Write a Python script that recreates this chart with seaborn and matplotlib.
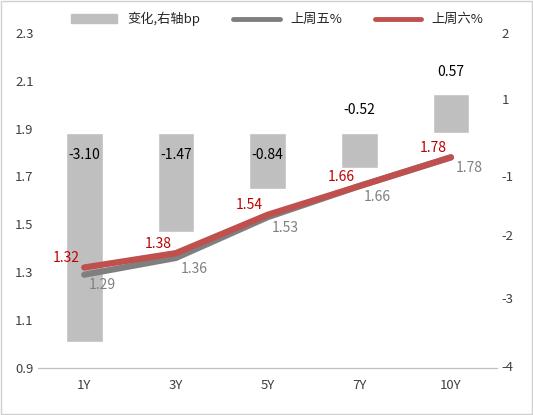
import matplotlib
matplotlib.use("Agg")
import matplotlib.pyplot as plt
import seaborn as sns
import pandas as pd
from matplotlib.patches import Patch
from matplotlib.lines import Line2D

sns.set_style("white")
plt.rcParams['font.family'] = ['Noto Sans CJK SC', 'DejaVu Sans']

cats = ["1Y", "3Y", "5Y", "7Y", "10Y"]
change_bp = [-3.10, -1.47, -0.84, -0.52, 0.57]
fri = [1.29, 1.36, 1.53, 1.66, 1.78]
sat = [1.32, 1.38, 1.54, 1.66, 1.78]
right_tick_pos = [1.48, 0.50, -0.64, -1.52, -2.45, -3.46]
right_tick_lab = ["2", "1", "-1", "-2", "-3", "-4"]

df = pd.DataFrame({"cat": cats, "chg": change_bp, "fri": fri, "sat": sat})

fig = plt.figure(figsize=(5.33, 4.15), dpi=100)
fig.patches.append(plt.Rectangle((0.002, 0.002), 0.996, 0.996, transform=fig.transFigure,
                                 fill=False, edgecolor="#d0d0d0", lw=1))
ax = fig.add_axes([0.072, 0.113, 0.86, 0.808])
ax2 = ax.twinx()

sns.barplot(data=df, x="cat", y="chg", ax=ax2, color="#bfbfbf", width=0.4, saturation=1)
ax2.set_ylim(-3.49, 1.48)
ax2.set_yticks(right_tick_pos)
ax2.set_yticklabels(right_tick_lab)
ax2.set_ylabel("")
for i, v in enumerate(change_bp):
    y = -0.33 if v < -0.6 else max(v, 0) + 0.33
    ax2.text(i, y, f"{v:.2f}", ha="center", va="center", fontsize=10, color="black")

x = list(range(len(cats)))
ax.plot(x, fri, color="#7f7f7f", lw=4.5, solid_capstyle="round")
ax.plot(x, sat, color="#c0504d", lw=4.5, solid_capstyle="round")
for i in x:
    ax.text(i + 0.05, fri[i] - 0.015, f"{fri[i]:.2f}", ha="left", va="top", fontsize=10, color="#808080")
    ax.text(i - 0.05, sat[i] + 0.01, f"{sat[i]:.2f}", ha="right", va="bottom", fontsize=10, color="#c00000")

ax.set_zorder(ax2.get_zorder() + 1)
ax.patch.set_visible(False)
ax.set_ylim(0.9, 2.3)
ax.set_yticks([0.9, 1.1, 1.3, 1.5, 1.7, 1.9, 2.1, 2.3])
ax.set_yticklabels([f"{t:.1f}" for t in [0.9, 1.1, 1.3, 1.5, 1.7, 1.9, 2.1, 2.3]])
ax.set_xlim(-0.5, 4.5)
ax.set_xticks(x)
ax.set_xticklabels(cats)
ax2.set_xlabel("")
for a in (ax, ax2):
    a.tick_params(length=0, labelsize=9.5, colors="#404040")
    for s in ["top", "left", "right"]:
        a.spines[s].set_visible(False)
    a.spines["bottom"].set_color("#bfbfbf")
ax.tick_params(axis="x", pad=8)

handles = [Patch(color="#bfbfbf"), Line2D([], [], color="#7f7f7f", lw=3.5),
           Line2D([], [], color="#c0504d", lw=3.5)]
fig.legend(handles, ["变化,右轴bp", "上周五%", "上周六%"], loc="upper center",
           bbox_to_anchor=(0.52, 1.0), ncol=3, frameon=False, fontsize=9.5,
           handlelength=3.5, columnspacing=2.5)
fig.savefig("out.png", dpi=100)
